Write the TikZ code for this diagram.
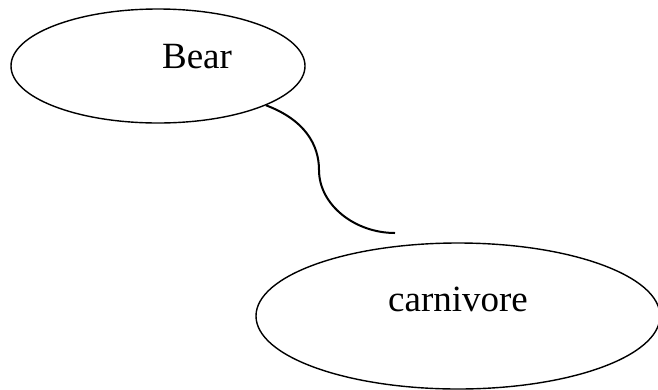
\documentclass[tikz,border=0pt]{standalone}
\usepackage{fontspec}
\setmainfont{Liberation Serif}
\usetikzlibrary{shapes.geometric}

\begin{document}
\begin{tikzpicture}[x=1pt,y=-1pt,
  concept/.style={ellipse,draw,line width=1.4pt,inner sep=0pt},
  word/.style={font=\fontsize{37}{40}\selectfont}]
\useasboundingbox (0,0) rectangle (658,389);

\node[concept,minimum width=294pt,minimum height=114pt] (bear) at (158,66) {};
\node[word] (beartext) at (197,57) {Bear};

\node[concept,minimum width=404pt,minimum height=146pt] (carnivore) at (458,316) {};
\node[word] (carntext) at (458,299) {carnivore};

\coordinate (loose) at (395,233);
\draw[line width=2pt] (bear.-20) .. controls (305,120) and (319,145) .. (319,170)
  .. controls (319,205) and (355,233) .. (loose);

\end{tikzpicture}
\end{document}
